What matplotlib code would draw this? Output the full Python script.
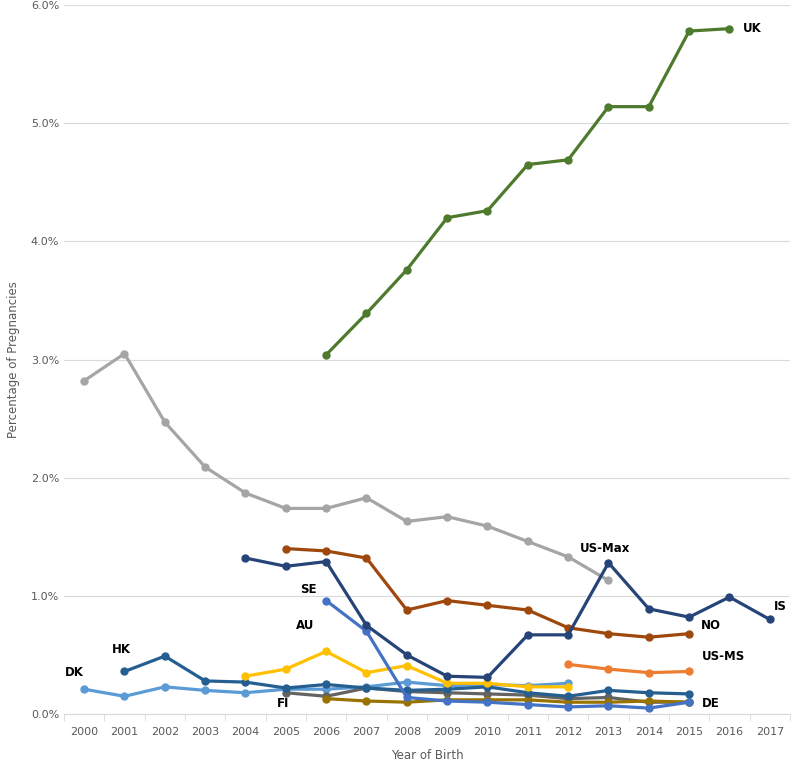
import numpy as np
import matplotlib
matplotlib.use('Agg')
import matplotlib.pyplot as plt
from matplotlib.ticker import FuncFormatter, MultipleLocator

# percentages, by year of birth
uk_years = [2006, 2007, 2008, 2009, 2010, 2011, 2012, 2013, 2014, 2015, 2016]
uk = [3.04, 3.39, 3.76, 4.20, 4.26, 4.65, 4.69, 5.14, 5.14, 5.78, 5.80]

usmax_years = list(range(2000, 2014))
usmax = [2.82, 3.05, 2.47, 2.09, 1.87, 1.74, 1.74, 1.83, 1.63, 1.67, 1.59, 1.46, 1.33, 1.13]

is_years = list(range(2004, 2018))
is_ = [1.32, 1.25, 1.29, 0.75, 0.50, 0.32, 0.31, 0.67, 0.67, 1.28, 0.89, 0.82, 0.99, 0.80]

no_years = list(range(2005, 2016))
no = [1.40, 1.38, 1.32, 0.88, 0.96, 0.92, 0.88, 0.73, 0.68, 0.65, 0.68]

se_years = list(range(2006, 2016))
se = [0.96, 0.70, 0.14, 0.11, 0.10, 0.08, 0.06, 0.07, 0.05, 0.10]

au_years = list(range(2004, 2013))
au = [0.32, 0.38, 0.53, 0.35, 0.41, 0.26, 0.26, 0.23, 0.23]

dk_years = list(range(2000, 2013))
dk = [0.21, 0.15, 0.23, 0.20, 0.18, 0.21, 0.21, 0.23, 0.27, 0.24, 0.25, 0.24, 0.26]

hk_years = list(range(2001, 2016))
hk = [0.36, 0.49, 0.28, 0.27, 0.22, 0.25, 0.22, 0.20, 0.21, 0.23, 0.18, 0.15, 0.20, 0.18, 0.17]

fi_years = list(range(2005, 2016))
fi = [0.18, 0.15, 0.22, 0.19, 0.18, 0.17, 0.16, 0.13, 0.14, 0.10, 0.10]

de_years = list(range(2006, 2016))
de = [0.13, 0.11, 0.10, 0.12, 0.12, 0.12, 0.10, 0.10, 0.11, 0.10]

usms_years = [2012, 2013, 2014, 2015]
usms = [0.42, 0.38, 0.35, 0.36]

fig = plt.figure(figsize=(8, 7.63), dpi=100)
ax = fig.add_axes([0.08, 0.0642, 0.9075, 0.9292])

series = [
    (usmax_years, usmax, '#A5A5A5'),
    (dk_years, dk, '#5B9BD5'),
    (fi_years, fi, '#636363'),
    (de_years, de, '#997300'),
    (hk_years, hk, '#255E91'),
    (au_years, au, '#FFC000'),
    (se_years, se, '#4472C4'),
    (no_years, no, '#9E480E'),
    (usms_years, usms, '#ED7D31'),
    (is_years, is_, '#264478'),
    (uk_years, uk, '#4E7A2E'),
]
for xs, ys, c in series:
    ax.plot(xs, ys, color=c, lw=2.3, marker='o', ms=5)

labels = [
    ('UK', 2016.56, 5.80), ('US-Max', 2012.91, 1.40), ('IS', 2017.25, 0.91),
    ('NO', 2015.54, 0.745), ('US-MS', 2015.86, 0.49), ('DE', 2015.54, 0.093),
    ('SE', 2005.55, 1.05), ('AU', 2005.48, 0.745), ('HK', 2000.92, 0.55),
    ('DK', 1999.75, 0.35), ('FI', 2004.93, 0.093),
]
for t, x, y in labels:
    ax.text(x, y, t, ha='center', va='center', fontsize=8.5, fontweight='bold', color='black')

ax.set_xlim(1999.5, 2017.5)
ax.set_ylim(0, 6.0)
ax.set_xticks(range(2000, 2018))
ax.xaxis.set_minor_locator(MultipleLocator(1, offset=0.5))
ax.yaxis.set_major_locator(MultipleLocator(1.0))
ax.yaxis.set_major_formatter(FuncFormatter(lambda v, p: f'{v:.1f}%'))
ax.tick_params(axis='x', which='major', length=0, labelsize=8, colors='#595959', pad=9)
ax.tick_params(axis='x', which='minor', length=5, color='#D9D9D9')
ax.tick_params(axis='y', length=0, labelsize=8, colors='#595959')
ax.grid(axis='y', color='#D9D9D9', lw=0.8)
ax.set_axisbelow(True)
for s in ['top', 'right', 'left']:
    ax.spines[s].set_visible(False)
ax.spines['bottom'].set_color('#D9D9D9')

ax.set_xlabel('Year of Birth', fontsize=8.5, color='#595959', labelpad=9)
ax.set_ylabel('Percentage of Pregnancies', fontsize=8.5, color='#595959', labelpad=8)

fig.savefig('out.png', dpi=100)
